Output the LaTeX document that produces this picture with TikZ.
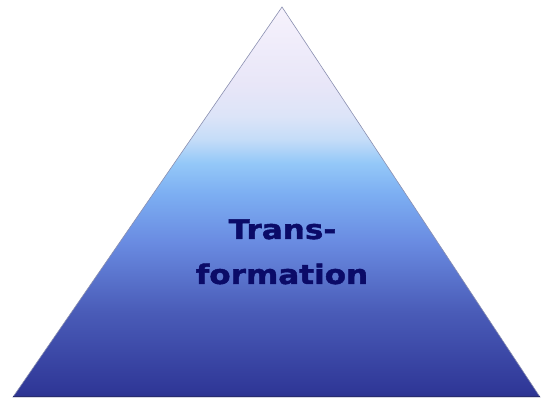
\documentclass[tikz,border=0pt]{standalone}
\usepackage{fontspec}
\newfontfamily\pyrfont[FakeStretch=1.15,BoldFeatures={FakeBold=1.6}]{DejaVu Sans}
\definecolor{navytext}{HTML}{0B0B68}
\definecolor{edgecol}{HTML}{8A8FB0}
\definecolor{baseline}{HTML}{282C70}
\definecolor{sA}{HTML}{2C3390}
\definecolor{sB}{HTML}{303898}
\definecolor{sC}{HTML}{4A5CB8}
\definecolor{sD}{HTML}{6A8CE2}
\definecolor{sE}{HTML}{7CAEF2}
\definecolor{sF}{HTML}{94C8F8}
\definecolor{sG}{HTML}{C4DCF8}
\definecolor{sH}{HTML}{DCE4F8}
\definecolor{sI}{HTML}{E8E6F8}
\definecolor{sJ}{HTML}{F6F2FC}
\pgfdeclareverticalshading{pyrshade}{100bp}{%
  color(0bp)=(sA);
  color(25bp)=(sA);
  color(26bp)=(sB);
  color(36bp)=(sC);
  color(45bp)=(sD);
  color(51bp)=(sE);
  color(55bp)=(sF);
  color(58bp)=(sG);
  color(61bp)=(sH);
  color(65bp)=(sI);
  color(75bp)=(sJ);
  color(100bp)=(sJ)}
\tikzset{
  pyramid/.style={shading=pyrshade, draw=edgecol, line width=0.6pt, line join=miter},
  pyrlabel/.style={font=\pyrfont\bfseries\fontsize{27}{32}\selectfont, text=navytext, anchor=base, inner sep=0pt}
}
\begin{document}
\begin{tikzpicture}[x=1pt,y=1pt]
\useasboundingbox (0,0) rectangle (541,399);
\coordinate (apex) at (282,392);
\coordinate (bl) at (13,2);
\coordinate (br) at (540,2);
\path[pyramid] (apex) -- (br) -- (bl) -- cycle;
\draw[draw=baseline, line width=1pt] (bl) -- (br);
\node[pyrlabel] (l1) at (282.5,160) {Trans-};
\node[pyrlabel] (l2) at (282,115) {formation};
\end{tikzpicture}
\end{document}
